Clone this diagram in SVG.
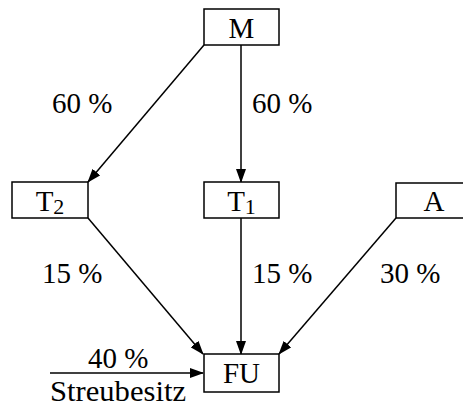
<svg xmlns="http://www.w3.org/2000/svg" width="463" height="406" viewBox="0 0 463 406">
<defs>
<style>
.t{font-family:'Liberation Serif','Times New Roman',serif;font-size:29px;fill:#000}
.box{fill:#fff;stroke:#000;stroke-width:1.5}
.ln{stroke:#000;stroke-width:1.5;fill:none;marker-end:url(#ah)}
</style>
<marker id="ah" markerWidth="14" markerHeight="10" refX="13" refY="5" orient="auto" markerUnits="userSpaceOnUse">
<path d="M0,0 L14,5 L0,10 Z" fill="#000"/>
</marker>
</defs>
<g id="connectors">
<line class="ln" x1="204" y1="45" x2="88" y2="182"/>
<line class="ln" x1="241" y1="45" x2="241" y2="182"/>
<line class="ln" x1="88" y1="218" x2="203" y2="354"/>
<line class="ln" x1="241" y1="218" x2="241" y2="354"/>
<line class="ln" x1="396" y1="218" x2="279" y2="354"/>
<line class="ln" x1="50" y1="373" x2="203" y2="373"/>
<text class="t" x="52" y="113">60 %</text>
<text class="t" x="252" y="113">60 %</text>
<text class="t" x="42" y="283">15 %</text>
<text class="t" x="252" y="283">15 %</text>
<text class="t" x="380" y="283">30 %</text>
<text class="t" x="88" y="368">40 %</text>
<text class="t" x="50" y="401" font-size="30.5" textLength="136" lengthAdjust="spacingAndGlyphs">Streubesitz</text>
</g>
<g id="M"><rect class="box" x="204" y="9" width="75" height="36"/><text class="t" x="241.5" y="38" text-anchor="middle">M</text></g>
<g id="T2"><rect class="box" x="12" y="182" width="76" height="36"/><text class="t" x="50" y="211" text-anchor="middle">T<tspan font-size="22" dy="3">2</tspan></text></g>
<g id="T1"><rect class="box" x="204" y="182" width="75" height="36"/><text class="t" x="241.5" y="211" text-anchor="middle">T<tspan font-size="22" dy="3">1</tspan></text></g>
<g id="A"><rect class="box" x="396" y="183" width="80" height="35"/><text class="t" x="434" y="211" text-anchor="middle">A</text></g>
<g id="FU"><rect class="box" x="204" y="354" width="75" height="38"/><text class="t" x="241.5" y="383" text-anchor="middle">FU</text></g>
</svg>
